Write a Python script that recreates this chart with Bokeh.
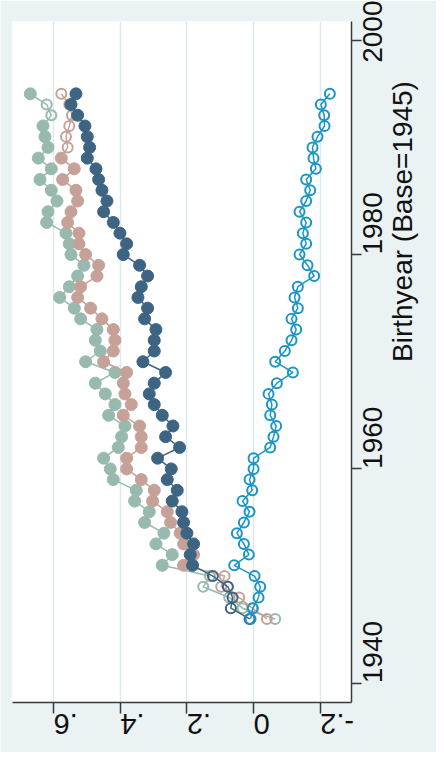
import math
from bokeh.plotting import figure
from bokeh.models import Range1d, FixedTicker, CustomJSTickFormatter
from bokeh.embed import file_html
from bokeh.resources import INLINE

years = list(range(1946, 1996))

coef_sage = [-0.065, 0.033, 0.073, 0.151, 0.131, 0.274, 0.244, 0.293, 0.269, 0.327,
             0.313, 0.357, 0.352, 0.421, 0.430, 0.450, 0.406, 0.396, 0.386, 0.435,
             0.416, 0.445, 0.475, 0.416, 0.504, 0.460, 0.475, 0.470, 0.519, 0.538,
             0.582, 0.553, 0.528, 0.509, 0.548, 0.553, 0.563, 0.621, 0.617, 0.590,
             0.607, 0.641, 0.607, 0.646, 0.617, 0.626, 0.632, 0.607, 0.621, 0.670]
coef_pink = [-0.040, 0.004, 0.043, 0.097, 0.087, 0.210, 0.180, 0.210, 0.220, 0.249,
             0.259, 0.303, 0.298, 0.337, 0.381, 0.381, 0.337, 0.337, 0.342, 0.391,
             0.367, 0.386, 0.391, 0.381, 0.450, 0.421, 0.416, 0.421, 0.455, 0.489,
             0.528, 0.519, 0.470, 0.465, 0.504, 0.524, 0.524, 0.558, 0.548, 0.528,
             0.533, 0.573, 0.538, 0.577, 0.558, 0.563, 0.553, 0.545, 0.553, 0.577]
coef_dark = [0.012, 0.068, 0.063, 0.077, 0.122, 0.183, 0.190, 0.180, 0.200, 0.210,
             0.215, 0.244, 0.229, 0.259, 0.247, 0.288, 0.222, 0.264, 0.242, 0.274,
             0.298, 0.313, 0.298, 0.264, 0.332, 0.298, 0.298, 0.293, 0.327, 0.318,
             0.347, 0.337, 0.318, 0.342, 0.391, 0.381, 0.401, 0.421, 0.450, 0.440,
             0.455, 0.465, 0.473, 0.499, 0.492, 0.499, 0.506, 0.528, 0.548, 0.533]
coef_blue = [0.009, 0.002, -0.015, -0.020, -0.003, 0.058, 0.014, 0.029, 0.050, 0.029,
             0.012, 0.033, 0.004, 0.012, 0.000, 0.000, -0.050, -0.060, -0.068, -0.050,
             -0.055, -0.045, -0.070, -0.118, -0.065, -0.094, -0.114, -0.128, -0.114, -0.133,
             -0.123, -0.133, -0.182, -0.162, -0.138, -0.158, -0.148, -0.158, -0.138, -0.158,
             -0.170, -0.158, -0.187, -0.180, -0.177, -0.192, -0.213, -0.212, -0.202, -0.229]

# years whose estimate is drawn with a hollow marker (not significant)
hollow_sage = [1946, 1947, 1948, 1949, 1950, 1993, 1994]
hollow_pink = [1946, 1947, 1948, 1949, 1950, 1990, 1991, 1992, 1993, 1994, 1995]
hollow_dark = [1946, 1947, 1948, 1949, 1950]
hollow_blue = years

x_ticks = [-0.2, 0.0, 0.2, 0.4, 0.6]
y_ticks = [1940, 1960, 1980, 2000]
y_title = "Birthyear (Base=1945)"

BG = "#eaf2f3"
FONT = "Liberation Sans"

p = figure(width=436, height=752, output_backend="svg", toolbar_location=None,
           x_range=Range1d(0.7235, -0.294), y_range=Range1d(1938.2, 2001.75),
           y_axis_location="right", x_axis_location="below",
           min_border_left=12, min_border_top=21, min_border_right=79, min_border_bottom=50)
p.background_fill_color = "white"
p.border_fill_color = BG
p.outline_line_color = None

p.xaxis.ticker = FixedTicker(ticks=x_ticks)
p.xaxis.formatter = CustomJSTickFormatter(
    code="return tick == 0 ? '0' : tick.toFixed(1).replace('0.', '.');")
p.yaxis.ticker = FixedTicker(ticks=y_ticks)

for ax in (p.xaxis[0], p.yaxis[0]):
    ax.axis_line_color = "#3a3a3a"
    ax.axis_line_width = 1.5
    ax.major_tick_line_color = "#3a3a3a"
    ax.major_tick_line_width = 1.5
    ax.major_tick_in = 0
    ax.major_tick_out = 11
    ax.minor_tick_line_color = None
    ax.major_label_text_font = FONT
    ax.major_label_text_font_size = "29px"
    ax.major_label_text_color = "#111111"

p.xaxis.major_label_orientation = math.pi
p.xaxis.major_label_standoff = 10
p.yaxis.major_tick_out = 10
p.yaxis.major_label_text_font_size = "28px"
p.yaxis.major_label_orientation = math.pi / 2
p.yaxis.major_label_standoff = 11
p.yaxis.axis_label = y_title
p.yaxis.axis_label_text_font = FONT
p.yaxis.axis_label_text_font_size = "28px"
p.yaxis.axis_label_text_font_style = "normal"
p.yaxis.axis_label_text_color = "#111111"
p.yaxis.axis_label_standoff = 8
try:
    p.yaxis.axis_label_orientation = math.pi / 2
except Exception:
    pass

p.ygrid.grid_line_color = None
p.xgrid.grid_line_color = "#dde9ec"
p.xgrid.grid_line_width = 1.5

series = [
    (coef_sage, hollow_sage, "#97b9ae"),
    (coef_pink, hollow_pink, "#c6a198"),
    (coef_dark, hollow_dark, "#3d6483"),
    (coef_blue, hollow_blue, "#1b95c6"),
]
for vals, hollow, col in series:
    p.line(vals, years, line_color=col, line_width=1.5)
    fx = [v for v, yr in zip(vals, years) if yr not in hollow]
    fy = [yr for yr in years if yr not in hollow]
    hx = [v for v, yr in zip(vals, years) if yr in hollow]
    hy = [yr for yr in years if yr in hollow]
    if fx:
        p.scatter(fx, fy, size=12, fill_color=col, line_color=col, line_width=1)
    if hx:
        p.scatter(hx, hy, size=10, fill_color=None, line_color=col, line_width=2)

open("out.html", "w").write(file_html(p, INLINE))
